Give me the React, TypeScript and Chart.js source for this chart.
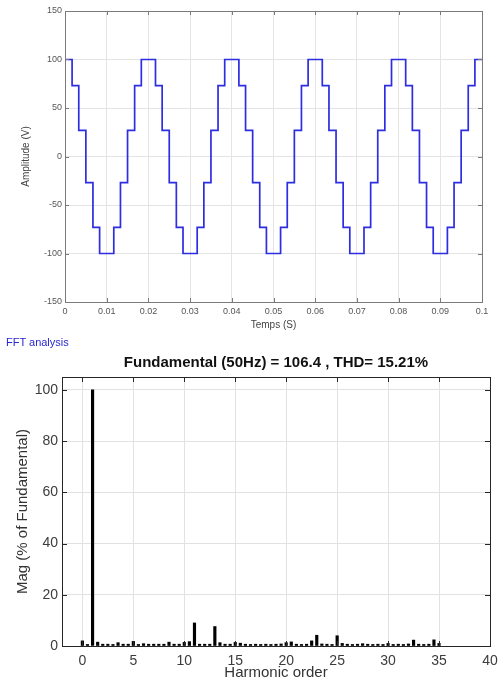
import React, { useEffect, useRef } from "react";
import { Chart, registerables } from "chart.js";

Chart.register(...registerables);

const FONT = '"Liberation Sans", Arial, Helvetica, sans-serif';

// ---- Top chart: staircase voltage waveform ----
const waveTimes = [
  0, 0.0017, 0.0033, 0.005, 0.0067, 0.0083, 0.0117, 0.0133, 0.015, 0.0167, 0.0183,
  0.0217, 0.0233, 0.025, 0.0267, 0.0283, 0.0317, 0.0333, 0.035, 0.0367, 0.0383,
  0.0417, 0.0433, 0.045, 0.0467, 0.0483, 0.0517, 0.0533, 0.055, 0.0567, 0.0583,
  0.0617, 0.0633, 0.065, 0.0667, 0.0683, 0.0717, 0.0733, 0.075, 0.0767, 0.0783,
  0.0817, 0.0833, 0.085, 0.0867, 0.0883, 0.0917, 0.0933, 0.095, 0.0967, 0.0983, 0.1,
];
const waveValues = [
  100, 73, 27, -27, -73, -100, -73, -27, 27, 73, 100,
  73, 27, -27, -73, -100, -73, -27, 27, 73, 100,
  73, 27, -27, -73, -100, -73, -27, 27, 73, 100,
  73, 27, -27, -73, -100, -73, -27, 27, 73, 100,
  73, 27, -27, -73, -100, -73, -27, 27, 73, 100, 100,
];
const timeTicks = [0, 0.01, 0.02, 0.03, 0.04, 0.05, 0.06, 0.07, 0.08, 0.09, 0.1];
const ampTicks = [-150, -100, -50, 0, 50, 100, 150];

// ---- Bottom chart: FFT spectrum ----
const harmonicOrders = [
  0, 0.5, 1, 1.5, 2, 2.5, 3, 3.5, 4, 4.5, 5, 5.5, 6, 6.5, 7, 7.5, 8, 8.5, 9, 9.5,
  10, 10.5, 11, 11.5, 12, 12.5, 13, 13.5, 14, 14.5, 15, 15.5, 16, 16.5, 17, 17.5,
  18, 18.5, 19, 19.5, 20, 20.5, 21, 21.5, 22, 22.5, 23, 23.5, 24, 24.5, 25, 25.5,
  26, 26.5, 27, 27.5, 28, 28.5, 29, 29.5, 30, 30.5, 31, 31.5, 32, 32.5, 33, 33.5,
  34, 34.5, 35,
];
const harmonicMags = [
  2.0, 0.6, 100, 1.5, 0.7, 0.7, 0.6, 1.3, 0.7, 0.7, 1.8, 0.6, 0.9, 0.7, 0.7, 0.7, 0.7, 1.5, 0.7, 0.7,
  1.4, 1.7, 9.0, 0.7, 0.7, 0.7, 7.6, 1.3, 0.7, 0.7, 1.4, 1.1, 0.7, 0.6, 0.7, 0.6,
  0.7, 0.6, 0.7, 0.8, 1.3, 1.6, 0.7, 0.6, 0.7, 2.0, 4.2, 0.8, 0.7, 0.6, 4.0, 1.0,
  0.7, 0.6, 0.7, 0.9, 0.7, 0.6, 0.7, 0.6, 1.0, 0.6, 0.7, 0.6, 0.8, 2.3, 0.7, 0.6,
  0.7, 2.4, 1.0,
];
const harmonicTicks = [0, 5, 10, 15, 20, 25, 30, 35, 40];
const magTicks = [0, 20, 40, 60, 80, 100];
const fftTitle = "Fundamental (50Hz) = 106.4 , THD= 15.21%";

const fmt = (v: any) => String(Number(Number(v).toFixed(4)));

const framePlugin = {
  id: "frame",
  afterDraw(chart: any, _args: any, opts: any) {
    const { ctx, chartArea: a, scales } = chart;
    const L = opts.tick || 4;
    ctx.save();
    ctx.strokeStyle = opts.color || "#888";
    ctx.lineWidth = 1;
    ctx.beginPath();
    scales.x.ticks.forEach((t: any) => {
      const x = Math.round(scales.x.getPixelForValue(t.value)) + 0.5;
      ctx.moveTo(x, a.bottom);
      ctx.lineTo(x, a.bottom - L);
      ctx.moveTo(x, a.top);
      ctx.lineTo(x, a.top + L);
    });
    scales.y.ticks.forEach((t: any) => {
      const y = Math.round(scales.y.getPixelForValue(t.value)) + 0.5;
      ctx.moveTo(a.left, y);
      ctx.lineTo(a.left + L, y);
      ctx.moveTo(a.right, y);
      ctx.lineTo(a.right - L, y);
    });
    ctx.stroke();
    ctx.strokeRect(Math.round(a.left) + 0.5, Math.round(a.top) + 0.5, Math.round(a.width), Math.round(a.height));
    ctx.restore();
  },
};

const zeroPad = (s: any) => {
  s.paddingLeft = 0;
  s.paddingRight = 0;
  s.paddingTop = 0;
  s.paddingBottom = 0;
};

export default function App() {
  const topRef = useRef<HTMLCanvasElement>(null);
  const botRef = useRef<HTMLCanvasElement>(null);

  useEffect(() => {
    const top = new Chart(topRef.current as HTMLCanvasElement, {
      type: "line",
      data: {
        datasets: [
          {
            data: waveTimes.map((t, i) => ({ x: t, y: waveValues[i] })),
            stepped: true,
            borderColor: "rgb(45,45,225)",
            borderWidth: 1.7,
            pointRadius: 0,
            fill: false,
          },
        ],
      },
      options: {
        animation: false,
        responsive: false,
        devicePixelRatio: 1,
        layout: { padding: { left: 0, top: 11, right: 17, bottom: 0 } },
        plugins: {
          legend: { display: false },
          tooltip: { enabled: false },
          frame: { color: "#7a7a7a", tick: 4 },
        } as any,
        scales: {
          x: {
            type: "linear",
            min: 0,
            max: 0.1,
            afterBuildTicks: (s: any) => {
              s.ticks = timeTicks.map((v) => ({ value: v }));
            },
            afterFit: (s: any) => {
              s.height = 33;
              zeroPad(s);
            },
            ticks: {
              callback: fmt,
              font: { family: FONT, size: 9 },
              color: "#555",
              padding: 4,
              maxRotation: 0,
              autoSkip: false,
            },
            grid: { color: "#e4e4e4", drawTicks: false },
            border: { display: false },
            title: {
              display: true,
              text: "Temps (S)",
              font: { family: FONT, size: 10 },
              color: "#444",
              padding: { top: 0, bottom: 4 },
            },
          },
          y: {
            type: "linear",
            min: -150,
            max: 150,
            afterBuildTicks: (s: any) => {
              s.ticks = ampTicks.map((v) => ({ value: v }));
            },
            afterFit: (s: any) => {
              s.width = 65;
              zeroPad(s);
            },
            ticks: {
              callback: fmt,
              font: { family: FONT, size: 9 },
              color: "#555",
              padding: 3,
              autoSkip: false,
            },
            grid: { color: "#e4e4e4", drawTicks: false },
            border: { display: false },
            title: {
              display: true,
              text: "Amplitude (V)",
              font: { family: FONT, size: 10 },
              color: "#444",
              padding: { top: 20, bottom: 0 },
            },
          },
        },
      },
      plugins: [framePlugin as any],
    });

    const bot = new Chart(botRef.current as HTMLCanvasElement, {
      type: "bar",
      data: {
        datasets: [
          {
            data: harmonicOrders.map((h, i) => ({ x: h, y: harmonicMags[i] })),
            backgroundColor: "#000",
            borderWidth: 0,
            barThickness: 2.5,
          },
        ],
      },
      options: {
        animation: false,
        responsive: false,
        devicePixelRatio: 1,
        layout: { padding: { left: 0, top: 0, right: 9, bottom: 0 } },
        plugins: {
          legend: { display: false },
          tooltip: { enabled: false },
          title: {
            display: true,
            fullSize: false,
            text: fftTitle,
            color: "#111",
            font: { family: FONT, size: 15, weight: "bold" },
            padding: { top: 19, bottom: 5 },
          },
          frame: { color: "#262626", tick: 5 },
        } as any,
        scales: {
          x: {
            type: "linear",
            min: -2,
            max: 40,
            offset: false,
            afterBuildTicks: (s: any) => {
              s.ticks = harmonicTicks.map((v) => ({ value: v }));
            },
            afterFit: (s: any) => {
              s.height = 39;
              zeroPad(s);
            },
            ticks: {
              callback: fmt,
              font: { family: FONT, size: 14 },
              color: "#3c3c3c",
              padding: 7,
              maxRotation: 0,
              autoSkip: false,
            },
            grid: { color: "#e2e2e2", drawTicks: false, offset: false },
            border: { display: false },
            title: {
              display: true,
              text: "Harmonic order",
              font: { family: FONT, size: 15 },
              color: "#333",
              padding: { top: 0, bottom: 3 },
            },
          },
          y: {
            type: "linear",
            min: 0,
            max: 105,
            afterBuildTicks: (s: any) => {
              s.ticks = magTicks.map((v) => ({ value: v }));
            },
            afterFit: (s: any) => {
              s.width = 62;
              zeroPad(s);
            },
            ticks: {
              callback: fmt,
              font: { family: FONT, size: 14 },
              color: "#3c3c3c",
              padding: 4,
              autoSkip: false,
            },
            grid: { color: "#e2e2e2", drawTicks: false },
            border: { display: false },
            title: {
              display: true,
              text: "Mag (% of Fundamental)",
              font: { family: FONT, size: 15 },
              color: "#333",
              padding: { top: 14, bottom: 0 },
            },
          },
        },
      },
      plugins: [framePlugin as any],
    });

    return () => {
      top.destroy();
      bot.destroy();
    };
  }, []);

  return (
    <div
      style={{
        position: "fixed",
        left: 0,
        top: 0,
        width: 499,
        height: 679,
        overflow: "hidden",
        background: "#fff",
      }}
    >
      <canvas
        ref={topRef}
        width={499}
        height={335}
        style={{ position: "absolute", left: 0, top: 0, width: 499, height: 335, display: "block" }}
      />
      <canvas
        ref={botRef}
        width={499}
        height={350}
        style={{ position: "absolute", left: 0, top: 335, width: 499, height: 350, display: "block" }}
      />
      <div
        style={{
          position: "absolute",
          left: 6,
          top: 336,
          font: `11px ${FONT}`,
          color: "rgb(40,40,210)",
          whiteSpace: "nowrap",
        }}
      >
        FFT analysis
      </div>
    </div>
  );
}
